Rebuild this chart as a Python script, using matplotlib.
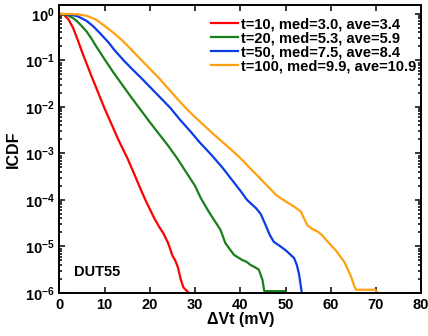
import matplotlib
matplotlib.use("Agg")
import matplotlib.pyplot as plt
import numpy as np

plt.rcParams['font.family'] = ['Liberation Sans', 'DejaVu Sans']
plt.rcParams['font.weight'] = 'bold'
plt.rcParams['mathtext.fontset'] = 'custom'
plt.rcParams['mathtext.rm'] = 'Liberation Sans:bold'
plt.rcParams['mathtext.bf'] = 'Liberation Sans:bold'
plt.rcParams['mathtext.default'] = 'bf'

# ICDF curves, log10 values
x_t10 = [0, 1, 2, 3, 4, 5, 6, 7, 8, 9, 10, 11, 12, 13, 14, 15, 16, 17, 18, 19, 20,
         21, 22, 23, 24, 25, 25.6, 26.2, 26.8, 27.4, 28.6]
lg_t10 = [0, -0.02, -0.12, -0.3, -0.55, -0.82, -1.07, -1.32, -1.56, -1.8, -2.04,
          -2.26, -2.48, -2.7, -2.9, -3.1, -3.32, -3.55, -3.78, -4.0, -4.2,
          -4.4, -4.57, -4.72, -4.92, -5.2, -5.3, -5.45, -5.7, -5.88, -6.0]

x_t20 = [0, 1, 2, 3, 4, 5, 6, 7, 8, 9, 10, 12, 14, 16, 18, 20, 22, 24, 26, 28, 30,
         31.2, 33, 35.6, 36.7, 38.6, 40.4, 41.4, 42.3, 43.3, 44.1, 44.9, 45.3, 49.7, 50]
lg_t20 = [0, -0.01, -0.04, -0.09, -0.17, -0.27, -0.38, -0.52, -0.68, -0.83, -0.98,
          -1.27, -1.54, -1.81, -2.07, -2.33, -2.58, -2.83, -3.1, -3.4, -3.7,
          -3.95, -4.25, -4.64, -4.93, -5.18, -5.29, -5.33, -5.4, -5.45, -5.5,
          -5.72, -5.96, -5.96, -6.0]

x_t50 = [0, 2, 4, 6, 7.5, 9, 11, 12, 14.2, 16, 18, 20, 22, 24.5, 26.7, 29, 31, 33.5,
         36, 38, 40, 41.5, 43.5, 44.5, 45.6, 46.5, 47.4, 48.9, 50, 50.8, 51.9, 52.5,
         53.0, 53.3, 53.6]
lg_t50 = [0, -0.01, -0.05, -0.15, -0.27, -0.42, -0.63, -0.76, -1.0, -1.18, -1.37,
          -1.57, -1.77, -2.02, -2.28, -2.53, -2.76, -3.02, -3.3, -3.55, -3.8, -4.0,
          -4.18, -4.3, -4.54, -4.75, -4.9, -5.0, -5.08, -5.15, -5.25, -5.4, -5.6,
          -5.8, -6.0]

x_t100 = [0, 2, 4, 6, 8, 10, 12, 14, 16, 18, 20, 22, 24, 26, 28, 30, 32, 34, 36, 38,
          40, 42, 44, 46, 48, 50, 52, 53.4, 54.2, 54.9, 56, 57.1, 58, 58.9, 60, 61.1,
          62, 63, 63.8, 64.5, 65.2, 65.6, 69.8, 70.4]
lg_t100 = [0, 0, -0.01, -0.04, -0.12, -0.26, -0.41, -0.58, -0.78, -0.98, -1.18,
           -1.38, -1.6, -1.82, -2.03, -2.22, -2.4, -2.58, -2.75, -2.92, -3.1, -3.3,
           -3.5, -3.7, -3.9, -4.03, -4.15, -4.25, -4.42, -4.55, -4.63, -4.68, -4.75,
           -4.85, -4.97, -5.08, -5.2, -5.33, -5.5, -5.65, -5.85, -5.93, -5.93, -6.0]

labels = ['t=10, med=3.0, ave=3.4', 't=20, med=5.3, ave=5.9',
          't=50, med=7.5, ave=8.4', 't=100, med=9.9, ave=10.9']
colors = ['#ff0000', '#1a7f1a', '#0a3ce6', '#ffa010']

fig = plt.figure(figsize=(4.28, 3.36), dpi=100)
ax = fig.add_axes([0.139, 0.128, 0.845, 0.857])

series = [(x_t10, lg_t10), (x_t20, lg_t20), (x_t50, lg_t50), (x_t100, lg_t100)]
for (xs, lg), c, lab in zip(series, colors, labels):
    ax.semilogy(xs, 10 ** np.array(lg), color=c, lw=1.6, label=lab)

ax.set_xlim(0, 80)
ax.set_ylim(1e-6, 1.55)
ax.set_xticks(range(0, 81, 10))
ax.set_yticks([10.0 ** k for k in range(-6, 1)])

for s in ax.spines.values():
    s.set_linewidth(1.4)
ax.tick_params(which='both', direction='in', top=True, right=True, labelsize=10.5, width=1.1)
ax.tick_params(which='major', length=4)
ax.tick_params(which='minor', length=2)
ax.tick_params(axis='x', which='minor', bottom=False, top=False)
for t in ax.get_xticklabels():
    t.set_fontweight('bold')

ax.set_xlabel('ΔVt (mV)', fontsize=11.5, fontweight='bold', labelpad=0)
ax.set_ylabel('ICDF', fontsize=11.5, fontweight='bold', labelpad=3)

ax.text(3.1, 10 ** -5.55, 'DUT55', fontsize=10.5, fontweight='bold', va='center')

ax.legend(loc='upper right', bbox_to_anchor=(1.003, 0.978), frameon=False,
          handlelength=1.9, handletextpad=0.2, labelspacing=0.0, borderaxespad=0,
          prop={'weight': 'bold', 'size': 10.5})

fig.savefig('out.png', dpi=100)
